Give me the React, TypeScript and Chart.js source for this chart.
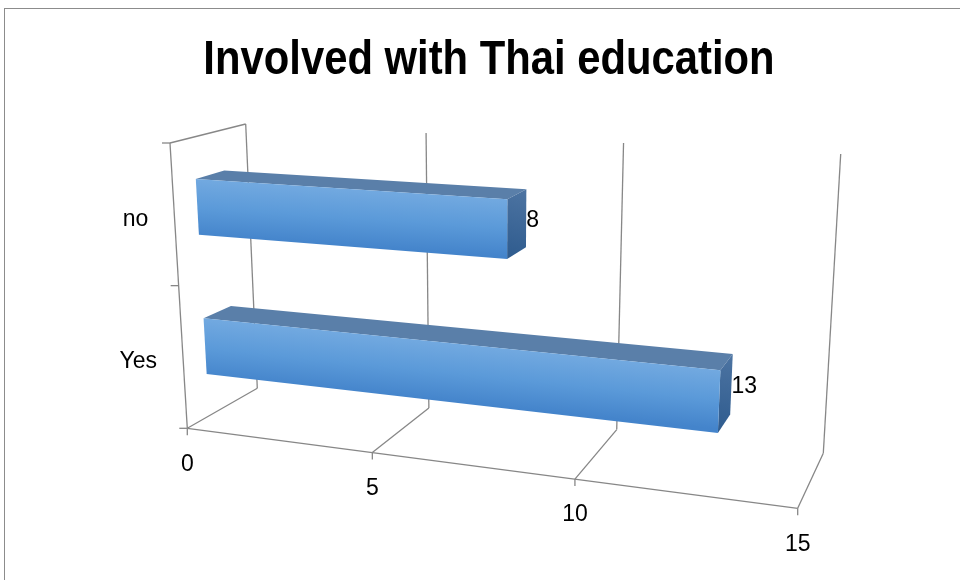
import React, { useEffect, useRef } from 'react';
import { Chart, registerables } from 'chart.js';

Chart.register(...registerables);

// ---------- data ----------
const TITLE = 'Involved with Thai education';
const CATEGORIES = ['no', 'Yes'];
const VALUES = [8, 13];
const X_MIN = 0;
const X_MAX = 15;
const X_STEP = 5;
const TICKS = [0, 5, 10, 15];

// ---------- layout / style of the 3D box (page pixels) ----------
const ORIGIN = { x: 5, y: 9 };
const FRONT = { bl: [187.3, 428.3], tl: [170, 143], br: [797.7, 508.3], tr: [815.4, 179.4] };
const BACK = { bl: [257.3, 388.3], tl: [245.7, 124], br: [823.3, 453.3], tr: [840.7, 154] };
const PERSPECTIVE = -0.13;
const BAR_DEPTH = [0.31, 0.69];
const GRID_COLOR = '#878787';
const TITLE_FONT = '"Liberation Sans", Arial, sans-serif';
const TITLE_SQUEEZE = 0.853;
const LABEL_FONT = '"Liberation Sans", Arial, sans-serif';
const LABEL_SIZE = 23;

type P = number[];
const lerp = (a: P, b: P, t: number): P => [a[0] + (b[0] - a[0]) * t, a[1] + (b[1] - a[1]) * t];

function project(u: number, v: number, w: number): P {
  const fu = ((1 + PERSPECTIVE) * u) / (1 + PERSPECTIVE * u);
  const plane = (Q: any) => lerp(lerp(Q.bl, Q.br, fu), lerp(Q.tl, Q.tr, fu), v);
  const p = lerp(plane(FRONT), plane(BACK), w);
  return [p[0] - ORIGIN.x, p[1] - ORIGIN.y];
}

const box3d = {
  id: 'box3d',
  beforeDraw(chart: any) {
    // narrow the title horizontally (the reference title is condensed)
    const { ctx } = chart;
    const tb = chart.titleBlock;
    const cx = tb ? (tb.left + tb.right) / 2 : chart.width / 2;
    ctx.save();
    ctx.translate(cx, 0);
    ctx.scale(TITLE_SQUEEZE, 1);
    ctx.translate(-cx, 0);
  },
  beforeDatasetsDraw(chart: any) {
    const { ctx, chartArea: a, scales } = chart;
    ctx.restore();
    const xs = scales.x;
    const ys = scales.y;
    const U = (val: number) => (xs.getPixelForValue(val) - a.left) / a.width;
    const V = (pix: number) => (a.bottom - pix) / a.height;
    const line = (p: P, q: P) => {
      ctx.beginPath();
      ctx.moveTo(p[0], p[1]);
      ctx.lineTo(q[0], q[1]);
      ctx.stroke();
    };
    ctx.save();
    ctx.strokeStyle = GRID_COLOR;
    ctx.lineWidth = 1.3;
    TICKS.forEach((t) => {
      const u = U(t);
      line(project(u, 0, 1), project(u, 1, 1));
      line(project(u, 0, 0), project(u, 0, 1));
      const p = project(u, 0, 0);
      line(p, [p[0], p[1] + 7]);
    });
    line(project(0, 0, 0), project(0, 1, 0));
    line(project(0, 1, 0), project(0, 1, 1));
    line(project(0, 0, 0), project(1, 0, 0));
    for (let i = 0; i <= CATEGORIES.length; i++) {
      const p = project(0, V(ys.getPixelForValue(i - 0.5)), 0);
      line(p, [p[0] - 8, p[1]]);
    }
    // axis labels
    ctx.fillStyle = '#000';
    ctx.font = `${LABEL_SIZE}px ${LABEL_FONT}`;
    ctx.textAlign = 'center';
    ctx.textBaseline = 'middle';
    TICKS.forEach((t) => {
      const p = project(U(t), 0, 0);
      ctx.fillText(String(t), p[0], p[1] + 36);
    });
    ctx.textAlign = 'right';
    CATEGORIES.forEach((c, i) => {
      const p = project(0, V(ys.getPixelForValue(i)), 0);
      ctx.fillText(c, p[0] - 26, p[1] + 5);
    });
    ctx.restore();
  },
  afterDatasetsDraw(chart: any) {
    const { ctx, chartArea: a } = chart;
    const meta = chart.getDatasetMeta(0);
    const data = chart.data.datasets[0].data;
    const poly = (pts: P[], fill: any) => {
      ctx.beginPath();
      ctx.moveTo(pts[0][0], pts[0][1]);
      for (let k = 1; k < pts.length; k++) ctx.lineTo(pts[k][0], pts[k][1]);
      ctx.closePath();
      ctx.fillStyle = fill;
      ctx.fill();
    };
    ctx.save();
    meta.data.forEach((el: any, i: number) => {
      const { x, y, base, height } = el.getProps(['x', 'y', 'base', 'height'], true);
      const u0 = (base - a.left) / a.width;
      const u1 = (x - a.left) / a.width;
      const vc = (a.bottom - y) / a.height;
      const hv = height / a.height / 2;
      const v0 = vc - hv;
      const v1 = vc + hv;
      const [w0, w1] = BAR_DEPTH;
      const Flb = project(u0, v0, w0), Flt = project(u0, v1, w0);
      const Frb = project(u1, v0, w0), Frt = project(u1, v1, w0);
      const Blt = project(u0, v1, w1), Brt = project(u1, v1, w1), Brb = project(u1, v0, w1);

      // top face
      poly([Flt, Frt, Brt, Blt], '#5a7fa9');
      // right end face
      const sg = ctx.createLinearGradient(Brt[0], Brt[1], Frb[0], Frb[1]);
      sg.addColorStop(0, '#4d74a2');
      sg.addColorStop(1, '#2e5b8e');
      poly([Frt, Brt, Brb, Frb], sg);
      // front face, gradient perpendicular to the top edge
      const dx = Frt[0] - Flt[0], dy = Frt[1] - Flt[1];
      const len = Math.hypot(dx, dy);
      const n = [-dy / len, dx / len];
      const topMid = lerp(Flt, Frt, 0.5);
      const botMid = lerp(Flb, Frb, 0.5);
      const d = (botMid[0] - topMid[0]) * n[0] + (botMid[1] - topMid[1]) * n[1];
      const fg = ctx.createLinearGradient(topMid[0], topMid[1], topMid[0] + n[0] * d, topMid[1] + n[1] * d);
      fg.addColorStop(0, '#72a9e0');
      fg.addColorStop(0.5, '#5b9ad9');
      fg.addColorStop(1, '#4484cb');
      poly([Flt, Frt, Frb, Flb], fg);

      // value label
      const anchor = lerp(Brt, Brb, 0.5);
      ctx.fillStyle = '#000';
      ctx.font = `${LABEL_SIZE}px ${LABEL_FONT}`;
      ctx.textAlign = 'left';
      ctx.textBaseline = 'middle';
      ctx.fillText(String(data[i]), anchor[0], anchor[1] + 2);
    });
    ctx.restore();
  },
};

export default function App() {
  const ref = useRef<HTMLCanvasElement | null>(null);
  useEffect(() => {
    if (!ref.current) return;
    const chart = new Chart(ref.current, {
      type: 'bar',
      data: {
        labels: CATEGORIES,
        datasets: [
          {
            data: VALUES,
            backgroundColor: 'rgba(0,0,0,0)',
            borderWidth: 0,
            barPercentage: 0.5,
            categoryPercentage: 0.8,
          },
        ],
      },
      options: {
        responsive: false,
        animation: false,
        indexAxis: 'y',
        layout: { padding: { left: 13 } },
        plugins: {
          legend: { display: false },
          tooltip: { enabled: false },
          title: {
            display: true,
            text: TITLE,
            color: '#000',
            font: { family: TITLE_FONT, size: 49, weight: 'bold' },
            padding: { top: 22, bottom: 10 },
          },
        },
        scales: {
          x: { type: 'linear', min: X_MIN, max: X_MAX, ticks: { stepSize: X_STEP }, display: false },
          y: { type: 'category', display: false },
        },
      },
      plugins: [box3d],
    } as any);
    return () => chart.destroy();
  }, []);
  return (
    <div style={{ position: 'fixed', left: 0, top: 0, width: 960, height: 580, overflow: 'hidden', background: '#fff' }}>
      <div
        style={{
          position: 'absolute',
          left: 4,
          top: 8,
          borderLeft: '1px solid #8c8c8c',
          borderTop: '1px solid #8c8c8c',
          width: 955,
          height: 571,
        }}
      >
        <canvas ref={ref} width={955} height={571} style={{ display: 'block' }} />
      </div>
    </div>
  );
}
